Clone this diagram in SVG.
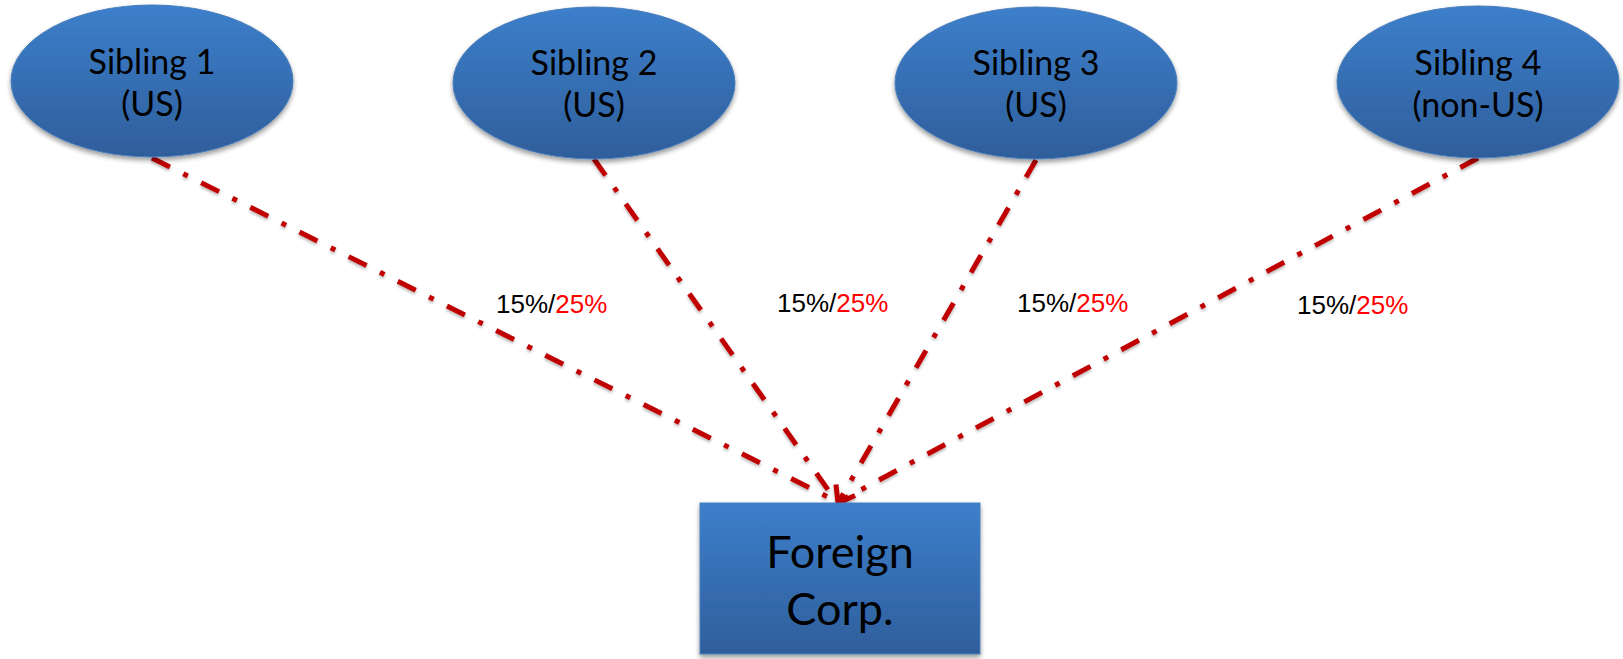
<svg xmlns="http://www.w3.org/2000/svg" width="1623" height="659" viewBox="0 0 1623 659">
<style>
.node{fill:url(#blue);stroke:#4a7ebb;stroke-width:1;filter:url(#sh);}
.nt{font-family:Lato,"Open Sans","Liberation Sans",sans-serif;font-size:34px;fill:#000;text-anchor:middle;}
.bt{font-family:Lato,"Open Sans","Liberation Sans",sans-serif;font-size:45px;fill:#000;text-anchor:middle;}
.lbl{font-family:"Liberation Sans",Arial,sans-serif;font-size:26px;fill:#000;}
.red{fill:#ff0000;}
.conn{fill:none;stroke:#c00000;stroke-width:5;stroke-dasharray:20 15 5 15;filter:url(#lsh);}
</style>
<defs>
<linearGradient id="blue" x1="0" y1="0" x2="0" y2="1">
<stop offset="0" stop-color="#3c7fcb"/>
<stop offset="1" stop-color="#2f5e9b"/>
</linearGradient>
<filter id="sh" x="-10%" y="-10%" width="120%" height="130%">
<feGaussianBlur in="SourceAlpha" stdDeviation="2.5"/>
<feOffset dy="3" result="b"/>
<feComponentTransfer><feFuncA type="linear" slope="0.4"/></feComponentTransfer>
<feMerge><feMergeNode/><feMergeNode in="SourceGraphic"/></feMerge>
</filter>
<filter id="lsh" x="-10%" y="-10%" width="120%" height="120%">
<feGaussianBlur in="SourceAlpha" stdDeviation="1.5"/>
<feOffset dy="2" result="b"/>
<feComponentTransfer><feFuncA type="linear" slope="0.3"/></feComponentTransfer>
<feMerge><feMergeNode/><feMergeNode in="SourceGraphic"/></feMerge>
</filter>
<marker id="arr" markerUnits="userSpaceOnUse" markerWidth="40" markerHeight="40" viewBox="-20 -20 40 40" refX="0" refY="0" orient="auto">
<path d="M -15 -11 L 0 0 L -15 11" fill="none" stroke="#c00000" stroke-width="5"/>
</marker>
</defs>
<g id="connectors">
<line class="conn" x1="152" y1="158" x2="836" y2="501"/>
<line class="conn" x1="594" y1="159" x2="836" y2="501"/>
<line class="conn" x1="1036" y1="160" x2="838" y2="503" marker-end="url(#arr)"/>
<line class="conn" x1="1478" y1="158" x2="840" y2="501"/>
</g>
<g id="sibling1">
<ellipse class="node" cx="152" cy="81" rx="141" ry="76"/>
<text class="nt" x="152" y="74">Sibling 1</text>
<text class="nt" x="152" y="116">(US)</text>
</g>
<g id="sibling2">
<ellipse class="node" cx="594" cy="83" rx="141" ry="76"/>
<text class="nt" x="594" y="75">Sibling 2</text>
<text class="nt" x="594" y="117">(US)</text>
</g>
<g id="sibling3">
<ellipse class="node" cx="1036" cy="83" rx="141" ry="76"/>
<text class="nt" x="1036" y="75">Sibling 3</text>
<text class="nt" x="1036" y="117">(US)</text>
</g>
<g id="sibling4">
<ellipse class="node" cx="1478" cy="82" rx="141" ry="76"/>
<text class="nt" x="1478" y="75">Sibling 4</text>
<text class="nt" x="1478" y="117">(non-US)</text>
</g>
<g id="foreign-corp">
<rect class="node" x="700" y="503" width="280" height="151"/>
<text class="bt" x="840" y="568">Foreign</text>
<text class="bt" x="840" y="625">Corp.</text>
</g>
<g id="labels">
<text class="lbl" x="496" y="313">15%/<tspan class="red">25%</tspan></text>
<text class="lbl" x="777" y="312">15%/<tspan class="red">25%</tspan></text>
<text class="lbl" x="1017" y="312">15%/<tspan class="red">25%</tspan></text>
<text class="lbl" x="1297" y="314">15%/<tspan class="red">25%</tspan></text>
</g>
</svg>
